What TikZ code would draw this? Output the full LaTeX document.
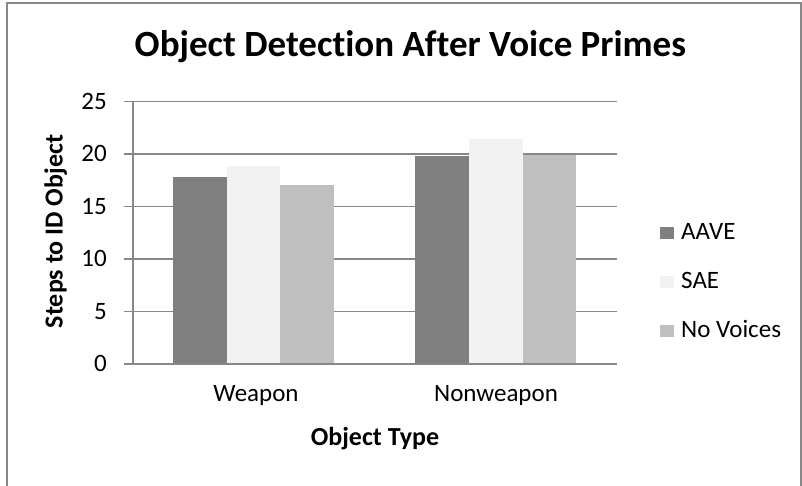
\documentclass[tikz,border=0pt]{standalone}
\usepackage{fontspec}
\setmainfont{Carlito}[Ligatures=NoCommon]
\usepackage{tikz}
\definecolor{aave}{HTML}{808080}
\definecolor{sae}{HTML}{F2F2F2}
\definecolor{novoice}{HTML}{BFBFBF}
\definecolor{rulegray}{HTML}{878787}

\begin{document}
\begin{tikzpicture}[x=1pt, y=-1pt, font=\fontsize{25}{30}\selectfont,
	gridline/.style={rulegray, line width=1.6pt},
	ticklabel/.style={anchor=east, inner sep=0pt},
	boldlabel/.style={font=\bfseries\fontsize{26}{31}\selectfont, inner sep=0pt, anchor=base}]
	\def\Z{363.8}
	\def\U{10.5}
	\def\B{53.7}
	\useasboundingbox (0,0) rectangle (802,485);
	
	% frame
	\draw[rulegray, line width=2pt] (7,3) rectangle (801,495);
	
	\node[font=\bfseries\fontsize{37}{44}\selectfont, anchor=base, inner sep=0pt] (title) at (410.5,56.7) {Object Detection After Voice Primes};
	
	\foreach \v in {0,5,...,25}	{
		\draw[gridline]	(124,{\Z-\v*\U}) -- (617,{\Z-\v*\U});
		\node[ticklabel] (y\v) at (107,{\Z-\v*\U}) {\v};
	}
	
	\foreach \x/\v/\c in {173/17.8/aave, 226.7/18.8/sae, 280.3/17.0/novoice, 415.3/19.8/aave, 469/21.4/sae, 522.7/19.9/novoice}	{
		\fill[\c]	(\x,\Z) rectangle ++(\B,{-\v*\U});
	}
	\draw[gridline]	(133,101.3) -- (133,\Z);
	\draw[gridline]	(124,\Z) -- (617,\Z);
	
	\node[anchor=base, inner sep=0pt] (weapon) at (256,401.7) {Weapon};
	\node[anchor=base, inner sep=0pt] (nonweapon) at (496,401.7) {Nonweapon};
	\node[boldlabel] (xtitle) at (375,445) {Object Type};
	\node[boldlabel, rotate=90] (ytitle) at (62.5,231.5) {Steps to ID Object};
	
	\foreach \n/\t/\c [count=\i] in {aave/AAVE/aave, sae/SAE/sae, novoice/No Voices/novoice}	{
		\fill[\c]	(660,{239.3+(\i-1)*49-12}) rectangle ++(14,11.7);
		\node[anchor=base west, inner sep=0pt] (leg\n) at (681,{239.3+(\i-1)*49}) {\t};
	}
\end{tikzpicture}
\end{document}
